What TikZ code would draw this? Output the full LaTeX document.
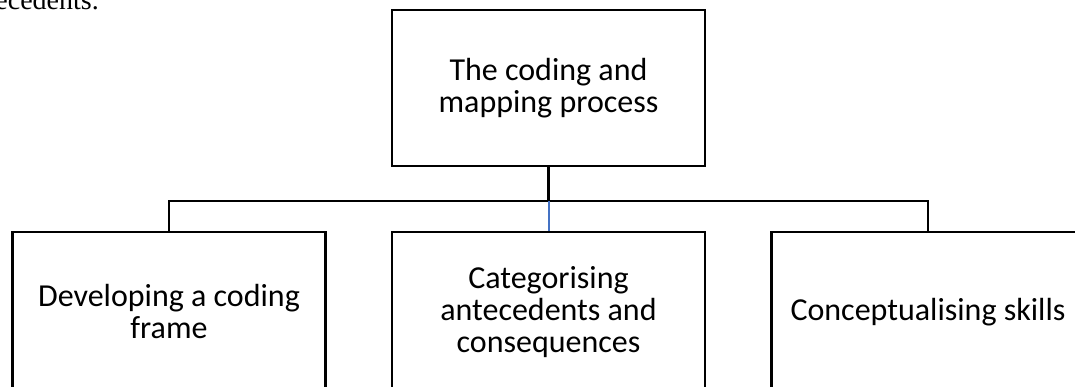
\documentclass[tikz,border=0pt]{standalone}
\usepackage{fontspec}
\setmainfont{Carlito}
\newfontfamily\bodyserif{Liberation Serif}
\usetikzlibrary{positioning}

\begin{document}
\begin{tikzpicture}[x=1pt, y=1pt, >=stealth,
        box/.style={draw, line width=2.4pt, rectangle, inner sep=0pt,
            minimum width=313pt, align=center,
            font=\fontsize{32}{32}\selectfont},
        link/.style={line width=2.4pt},
        wordblue/.style={line width=2pt, draw=linkBlue}]
        % --- CONFIGURATION ---
        \definecolor{linkBlue}{RGB}{68, 114, 196}   % bleu Word

        % Cadre de la page
        \useasboundingbox (0,0) rectangle (1075,-387);
        \clip (0,0) rectangle (1075,-387);

        % Reste du texte de la page precedente
        \node[font=\bodyserif\fontsize{28}{30}\selectfont, anchor=base east, inner sep=0pt]
            (fragment) at (99,-10) {antecedents.};

        % --- BOITES ---
        \node[box, minimum height=156pt] (process) at (548.5,-88)
            {The coding and\\mapping process};
        \node[box, minimum height=160pt] (frame) at (169,-312)
            {Developing a coding\\frame};
        \node[box, minimum height=160pt] (categories) at (548.5,-312)
            {Categorising\\antecedents and\\consequences};
        \node[box, minimum height=160pt] (skills) at (928,-312)
            {Conceptualising skills};

        % --- LIENS ---
        \draw[link] (process.south) -- ++(0,-34) coordinate (hub);
        \draw[link] (frame.north) |- (hub) -| (skills.north);
        \draw[wordblue] (hub) -- (categories.north);
    \end{tikzpicture}
\end{document}
